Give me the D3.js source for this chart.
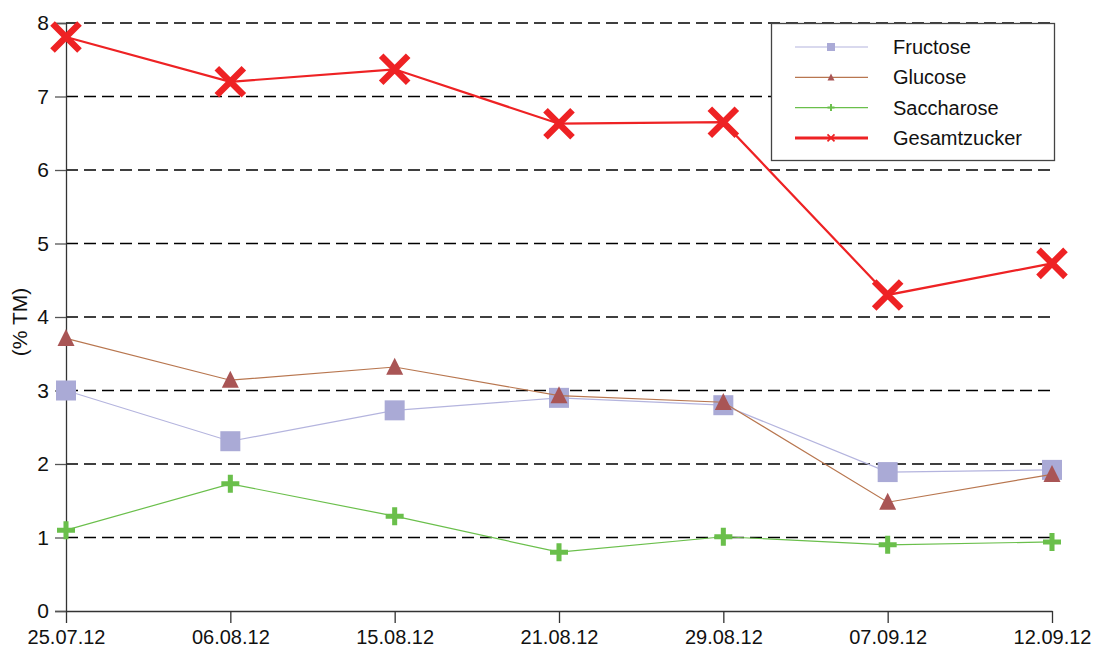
<!DOCTYPE html>
<html>
<head>
<meta charset="utf-8">
<script src="https://cdn.jsdelivr.net/npm/d3@7"></script>
<style>
  body { margin: 0; background: #fff; }
  text { font-family: "Liberation Sans", Arial, sans-serif; fill: #111; }
</style>
</head>
<body>
<script>
// chart size
var w = 1096;
var h = 651;

// data
var dates = ["25.07.12", "06.08.12", "15.08.12", "21.08.12", "29.08.12", "07.09.12", "12.09.12"];
var fructose = [3.0, 2.31, 2.73, 2.9, 2.8, 1.89, 1.92];
var glucose = [3.71, 3.14, 3.32, 2.93, 2.84, 1.48, 1.86];
var saccharose = [1.1, 1.73, 1.29, 0.8, 1.01, 0.9, 0.94];
var gesamtzucker = [7.81, 7.2, 7.37, 6.63, 6.65, 4.3, 4.73];
var yTicks = [0, 1, 2, 3, 4, 5, 6, 7, 8];

var series = [
  { name: "Fructose", values: fructose, color: "#aaaad6", line: "#b4b4de", width: 1.2, marker: "square" },
  { name: "Glucose", values: glucose, color: "#a95555", line: "#b8764f", width: 1.2, marker: "triangle" },
  { name: "Saccharose", values: saccharose, color: "#6abf4b", line: "#6abf4b", width: 1.2, marker: "plus" },
  { name: "Gesamtzucker", values: gesamtzucker, color: "#ee2224", line: "#ee2224", width: 2.2, marker: "cross" }
];

var svg = d3.select("body")
  .append("svg")
  .attr("width", w)
  .attr("height", h);

var x = d3.scalePoint()
  .domain(dates)
  .range([66, 1052]);

var y = d3.scaleLinear()
  .domain([0, 8])
  .range([611, 23]);

// dashed grid lines
svg.append("g")
  .selectAll("line")
  .data(yTicks.filter(function(d) { return d > 0; }))
  .enter()
  .append("line")
  .attr("x1", 66)
  .attr("x2", 1056)
  .attr("y1", function(d) { return y(d); })
  .attr("y2", function(d) { return y(d); })
  .attr("stroke", "#000")
  .attr("stroke-width", 1.7)
  .attr("stroke-dasharray", "12,6");

// y axis
var yAxis = svg.append("g")
  .attr("transform", "translate(66,0)")
  .call(d3.axisLeft(y).tickValues(yTicks).tickSize(11).tickPadding(6).tickFormat(d3.format("d")));
yAxis.select(".domain").attr("stroke", "#333").attr("stroke-width", 1.3);
yAxis.selectAll(".tick line").attr("stroke", "#555").attr("stroke-width", 1.3);
yAxis.selectAll("text").style("font-size", "21px").attr("fill", "#111");

// x axis
var xAxis = svg.append("g")
  .attr("transform", "translate(0,611)")
  .call(d3.axisBottom(x).tickSize(12).tickSizeOuter(0).tickPadding(7));
xAxis.select(".domain").attr("stroke", "#333").attr("stroke-width", 1.3);
xAxis.selectAll(".tick line").attr("stroke", "#333").attr("stroke-width", 1.3);
xAxis.selectAll("text").style("font-size", "20px").attr("fill", "#111");

// y axis label
svg.append("text")
  .attr("transform", "translate(27,322) rotate(-90)")
  .attr("text-anchor", "middle")
  .style("font-size", "21px")
  .text("(% TM)");

// marker shapes
function drawMarker(g, type, color, size) {
  if (type == "square") {
    g.append("rect")
      .attr("x", -size / 2).attr("y", -size / 2)
      .attr("width", size).attr("height", size)
      .attr("fill", color);
  } else if (type == "triangle") {
    var s = size;
    g.append("path")
      .attr("d", "M0," + (-s * 0.55) + "L" + (s / 2) + "," + (s * 0.45) + "L" + (-s / 2) + "," + (s * 0.45) + "Z")
      .attr("fill", color);
  } else if (type == "plus") {
    g.append("path")
      .attr("d", "M" + (-size / 2) + ",0H" + (size / 2) + "M0," + (-size / 2) + "V" + (size / 2))
      .attr("stroke", color)
      .attr("stroke-width", size * 0.28)
      .attr("fill", "none");
  } else if (type == "cross") {
    var r = size / 2;
    g.append("path")
      .attr("d", "M" + (-r) + "," + (-r) + "L" + r + "," + r + "M" + r + "," + (-r) + "L" + (-r) + "," + r)
      .attr("stroke", color)
      .attr("stroke-width", size * 0.24)
      .attr("fill", "none");
  }
}

var markerSize = { square: 20, triangle: 17, plus: 18, cross: 27 };

var line = d3.line()
  .x(function(d, i) { return x(dates[i]); })
  .y(function(d) { return y(d); });

series.forEach(function(s) {
  var g = svg.append("g");
  g.append("path")
    .datum(s.values)
    .attr("d", line)
    .attr("fill", "none")
    .attr("stroke", s.line)
    .attr("stroke-width", s.width);
  s.values.forEach(function(v, i) {
    var m = g.append("g")
      .attr("transform", "translate(" + x(dates[i]) + "," + y(v) + ")");
    drawMarker(m, s.marker, s.color, markerSize[s.marker]);
  });
});

// legend
var legend = svg.append("g");
legend.append("rect")
  .attr("x", 771.5)
  .attr("y", 23.5)
  .attr("width", 283)
  .attr("height", 137)
  .attr("fill", "#fff")
  .attr("stroke", "#444")
  .attr("stroke-width", 1.3);

series.forEach(function(s, i) {
  var ly = 47 + i * 30.3;
  legend.append("line")
    .attr("x1", 795).attr("x2", 868)
    .attr("y1", ly).attr("y2", ly)
    .attr("stroke", s.line)
    .attr("stroke-width", s.marker == "cross" ? 3 : 1.2);
  var m = legend.append("g").attr("transform", "translate(831," + ly + ")");
  drawMarker(m, s.marker, s.color, s.marker == "square" ? 8 : 7);
  legend.append("text")
    .attr("x", 893)
    .attr("y", ly + 7)
    .style("font-size", "20px")
    .text(s.name);
});
</script>
</body>
</html>
